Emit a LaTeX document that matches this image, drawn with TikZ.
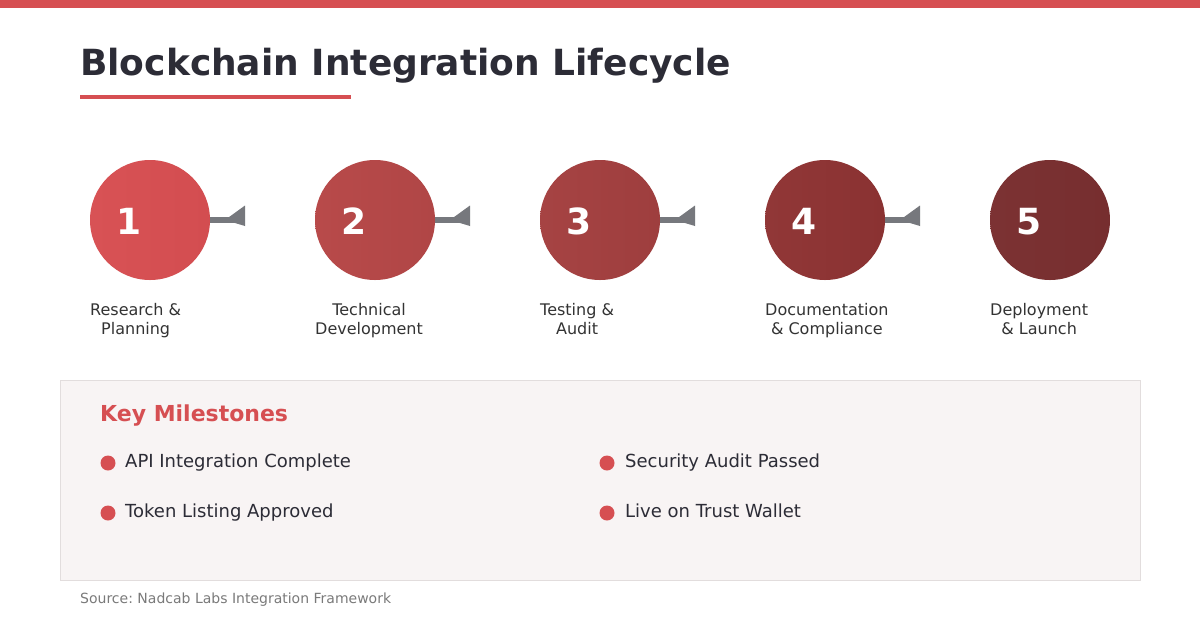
\documentclass[tikz,border=0pt]{standalone}
\usepackage{fontspec}
\usetikzlibrary{calc}
\setmainfont{DejaVu Sans}
\frenchspacing
\definecolor{red1}{HTML}{D64F52}
\definecolor{titlec}{HTML}{2C2C36}
\definecolor{textc}{HTML}{333333}
\definecolor{arrowc}{HTML}{76787D}
\definecolor{boxfill}{HTML}{F8F4F4}
\definecolor{boxline}{HTML}{E2DDDD}
\definecolor{srcc}{HTML}{7A7A7A}
\definecolor{cA1}{HTML}{D85255}\definecolor{cA2}{HTML}{D34D50}
\definecolor{cB1}{HTML}{B84A4A}\definecolor{cB2}{HTML}{B04646}
\definecolor{cC1}{HTML}{A64343}\definecolor{cC2}{HTML}{9E3E3E}
\definecolor{cD1}{HTML}{913737}\definecolor{cD2}{HTML}{8A3232}
\definecolor{cE1}{HTML}{7C3233}\definecolor{cE2}{HTML}{762E2F}
\begin{document}
\begin{tikzpicture}[x=1pt,y=-1pt,
  stage/.style={circle,minimum size=120pt,inner sep=0pt,draw=none},
  num/.style={anchor=base,inner sep=0pt,text=white,font=\fontsize{36}{40}\selectfont\bfseries},
  lbl/.style={anchor=base west,inner sep=0pt,text=textc,font=\fontsize{16}{19}\selectfont},
  conn/.style={draw=arrowc,line width=6pt},
  tip/.style={fill=arrowc},
  bullet/.style={circle,fill=red1,minimum size=15pt,inner sep=0pt},
  item/.style={anchor=base west,inner sep=0pt,text=titlec,font=\fontsize{18}{22}\selectfont}
]
\useasboundingbox (0,0) rectangle (1200,630);
\fill[white] (0,0) rectangle (1200,630);
\fill[red1] (0,0) rectangle (1200,8);
\node[anchor=base west,inner sep=0pt,text=titlec,font=\fontsize{36}{42}\selectfont\bfseries] (title) at (80,75) {Blockchain Integration Lifecycle};
\fill[red1] (80,95) rectangle (351,99);

% stages
\node[stage,left color=cA1,right color=cA2] (c1) at (150,220) {};
\node[stage,left color=cB1,right color=cB2] (c2) at (375,220) {};
\node[stage,left color=cC1,right color=cC2] (c3) at (600,220) {};
\node[stage,left color=cD1,right color=cD2] (c4) at (825,220) {};
\node[stage,left color=cE1,right color=cE2] (c5) at (1050,220) {};

\foreach \i/\x in {1/150,2/375,3/600,4/825}{
  \coordinate (a\i) at (\x+95,220);
  \draw[conn] (c\i.east) -- (a\i);
  \fill[tip] ($(a\i)+(0,-14.5)$) -- ($(a\i)+(0,6)$) -- ($(a\i)+(-20,0)$) -- cycle;
}

\node[num] (n1) at (129,234) {1};
\node[num] (n2) at (354,234) {2};
\node[num] (n3) at (579,234) {3};
\node[num] (n4) at (804,234) {4};
\node[num] (n5) at (1029,234) {5};

\node[lbl] (l1) at (90,315) {\begin{tabular}[t]{@{}c@{}}Research \&\\Planning\end{tabular}};
\node[lbl] (l2) at (315,315) {\begin{tabular}[t]{@{}c@{}}Technical\\Development\end{tabular}};
\node[lbl] (l3) at (540,315) {\begin{tabular}[t]{@{}c@{}}Testing \&\\Audit\end{tabular}};
\node[lbl] (l4) at (765,315) {\begin{tabular}[t]{@{}c@{}}Documentation\\\& Compliance\end{tabular}};
\node[lbl] (l5) at (990,315) {\begin{tabular}[t]{@{}c@{}}Deployment\\\& Launch\end{tabular}};

% milestones box
\draw[boxline,fill=boxfill,line width=1pt] (60.5,380.5) rectangle (1140,580);
\node[anchor=base west,inner sep=0pt,text=red1,font=\fontsize{22}{26}\selectfont\bfseries] (kt) at (100,421) {Key Milestones};

\node[bullet] (b1) at (108,463) {};
\node[item] (t1) at (125,467) {API Integration Complete};
\node[bullet] (b2) at (108,513) {};
\node[item] (t2) at (125,517) {Token Listing Approved};
\node[bullet] (b3) at (607,463) {};
\node[item] (t3) at (625,467) {Security Audit Passed};
\node[bullet] (b4) at (607,513) {};
\node[item] (t4) at (625,517) {Live on Trust Wallet};

\node[anchor=base west,inner sep=0pt,text=srcc,font=\fontsize{14}{17}\selectfont] (src) at (80,603) {Source: Nadcab Labs Integration Framework};
\end{tikzpicture}
\end{document}
